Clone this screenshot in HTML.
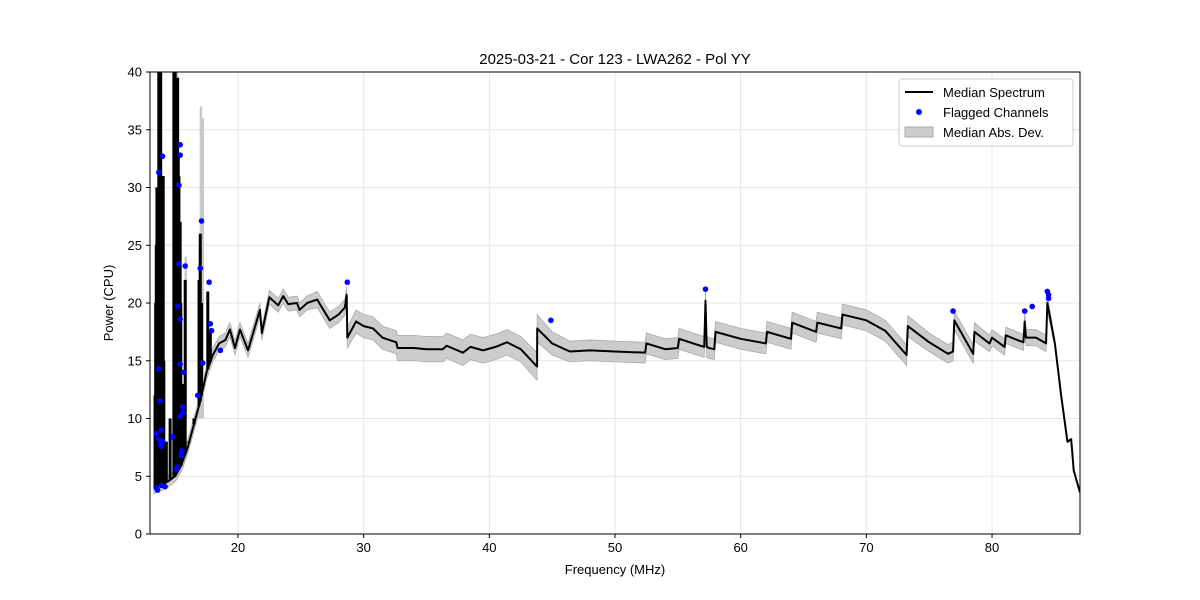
<!DOCTYPE html>
<html><head><meta charset="utf-8"><style>
body{margin:0;background:#fff;}
svg{display:block;font-family:"Liberation Sans","DejaVu Sans",sans-serif;}
</style></head><body>
<svg id="chart" width="1200" height="600" viewBox="0 0 1200 600">
<rect width="1200" height="600" fill="#fff"/>
<text x="615" y="64" text-anchor="middle" font-size="15">2025-03-21 - Cor 123 - LWA262 - Pol YY</text>
<g id="grid"></g>
<g id="plot"></g>
<rect x="150" y="72" width="930" height="462" fill="none" stroke="#000" stroke-width="1"/>
<g id="axes"></g>
<text x="615" y="574" text-anchor="middle" font-size="13">Frequency (MHz)</text>
<text transform="translate(113,303) rotate(-90)" text-anchor="middle" font-size="13">Power (CPU)</text>
<g>
<rect x="899" y="79" width="174" height="67" rx="3" fill="#fff" fill-opacity="0.85" stroke="#ccc"/>
<line x1="905" y1="92" x2="933" y2="92" stroke="#000" stroke-width="2"/>
<text x="943" y="97" font-size="13">Median Spectrum</text>
<circle cx="919" cy="112" r="3" fill="#00f"/>
<text x="943" y="117" font-size="13">Flagged Channels</text>
<rect x="905" y="127" width="28" height="10" fill="#ccc" stroke="#aaa"/>
<text x="943" y="137" font-size="13">Median Abs. Dev.</text>
</g>
</svg>
<script>
const xTicks=[20,30,40,50,60,70,80];
const yTicks=[0,5,10,15,20,25,30,35,40];
const freq=[13.3,13.6,14.0,14.5,15.0,15.5,16.0,16.5,17.0,17.5,18.0,18.5,19.0,19.36,19.76,20.16,20.8,21.75,21.9,22.5,23.2,23.6,24.0,24.7,24.9,25.5,26.3,27.3,28.0,28.5,28.65,28.7,29.4,30.0,30.75,31.5,32.6,32.7,34.0,35.0,36.3,36.6,37.9,38.5,39.5,40.5,41.4,42.5,43.8,43.81,45.0,46.4,48.0,50.0,52.4,52.5,54.0,55.0,55.1,56.5,57.1,57.2,57.3,57.5,57.9,58.0,60.0,62.0,62.1,64.0,64.1,66.0,66.1,68.0,68.1,70.0,71.5,73.2,73.3,75.0,76.5,76.9,77.0,78.5,78.6,79.8,80.0,81.0,81.1,82.0,82.5,82.6,82.7,83.5,84.3,84.4,85.0,85.5,86.0,86.3,86.5,87.0];
const power=[4.0,4.1,4.3,4.6,5.0,6.0,7.5,9.5,11.5,14.0,15.5,16.5,16.8,17.7,16.1,17.7,15.9,19.4,17.4,20.5,19.8,20.6,19.9,20.0,19.4,20.0,20.3,18.5,19.0,19.6,20.7,17.0,18.4,18.0,17.8,17.0,16.6,16.1,16.1,16.0,16.0,16.3,15.7,16.2,15.9,16.2,16.6,16.0,14.5,17.8,16.5,15.8,15.9,15.8,15.7,16.5,16.0,16.1,16.9,16.4,16.2,20.2,16.2,16.1,16.0,17.5,16.9,16.5,17.5,16.9,18.3,17.5,18.3,17.8,19.0,18.5,17.6,15.5,18.0,16.6,15.6,15.8,18.5,15.6,17.5,16.5,17.0,16.2,17.2,16.8,16.6,18.4,17.0,17.0,16.5,20.0,16.5,12.0,8.0,8.2,5.5,3.6];
const mad=[0.5,0.5,0.5,0.5,0.5,0.6,0.6,0.6,0.6,0.6,0.6,0.6,0.6,0.6,0.6,0.6,0.6,0.6,0.6,0.6,0.6,0.6,0.6,0.6,0.6,0.6,0.7,0.7,0.7,0.7,0.7,0.9,1.0,1.0,1.0,1.0,1.0,1.1,1.1,1.1,1.1,1.1,1.1,1.1,1.1,1.1,1.1,1.1,1.2,1.2,1.0,0.9,0.9,0.9,0.9,0.9,0.9,0.9,0.9,0.9,0.9,0.9,0.9,0.9,0.9,0.9,0.9,0.9,0.9,0.9,0.9,0.9,0.9,0.9,0.9,0.9,0.9,0.9,0.9,0.8,0.8,0.8,0.8,0.8,0.8,0.7,0.7,0.7,0.7,0.7,0.7,0.7,0.7,0.7,0.7,0.7,0.3,0.1,0.1,0.1,0.1,0.1];
const spikeFreq=[13.4,13.45,13.5,13.55,13.6,13.65,13.7,13.75,13.8,13.85,13.9,13.95,14.0,14.05,14.1,14.3,14.6,14.9,14.95,15.0,15.05,15.1,15.15,15.2,15.25,15.3,15.35,15.4,15.45,15.5,15.6,15.8,16.1,16.5,16.9,17.0,17.1,17.6,17.8];
const spikeTop=[12,20,25,30,22,29,40,40,35,40,28,20,24,31,15,8,10,40,36,40,38,38,30,39.5,33,31,24,27,20,12,13,22,8,10,22,26,20,21,17.7];
const madSpikeFreq=[17.05,17.2,16.95,15.85,15.15];
const madSpikeTop=[37,36,25,24,40];
const flagFreq=[57.2,44.9,28.7,76.9,82.6,83.2,84.4,84.5,84.5,18.6,17.7,17.8,17.9,17.1,17.0,16.8,17.2,15.8,15.7,15.4,15.4,15.3,15.3,15.2,15.4,15.4,15.6,15.6,15.4,15.5,15.2,15.1,13.7,14.0,13.7,13.8,13.5,13.7,13.9,14.0,13.9,13.8,13.5,13.6,13.9,14.2,14.8,15.55,15.5];
const flagPower=[21.2,18.5,21.8,19.3,19.3,19.7,21.0,20.7,20.4,15.9,21.8,18.2,17.6,27.1,23.0,12.0,14.8,23.2,14.0,33.7,32.8,30.2,23.4,19.7,18.6,14.7,11.0,10.5,10.2,7.0,5.8,5.6,31.3,32.7,14.3,11.5,8.7,8.2,9.0,8.0,7.6,7.8,4.0,3.8,4.2,4.1,8.4,7.2,6.8];

const X0=150,X1=1080,Y0=534,Y1=72,FMIN=13.0,FMAX=87.0,PMAX=40;
function xs(f){return X0+(f-FMIN)/(FMAX-FMIN)*(X1-X0);}
function ys(p){return Y0-Math.min(p,PMAX)/PMAX*(Y0-Y1);}
const NS='http://www.w3.org/2000/svg';
function mk(t,a,parent){const e=document.createElementNS(NS,t);for(const k in a)e.setAttribute(k,a[k]);parent.appendChild(e);return e;}
const grid=document.getElementById('grid'),plot=document.getElementById('plot'),axes=document.getElementById('axes');
xTicks.forEach(v=>{
 const gl=mk('line',{x1:xs(v),x2:xs(v),y1:Y1,y2:Y0,stroke:'#e5e5e5','stroke-width':1},grid);
 
 
 const tk=mk('line',{x1:xs(v),x2:xs(v),y1:Y0,y2:Y0+4,stroke:'#000'},axes);
 
 
 const tl=mk('text',{x:xs(v),y:Y0+18,'text-anchor':'middle','font-size':13},axes);
 tl.textContent=v;
 
 
});
yTicks.forEach(v=>{
 const gl=mk('line',{x1:X0,x2:X1,y1:ys(v),y2:ys(v),stroke:'#e5e5e5','stroke-width':1},grid);
 
 
 const tk=mk('line',{x1:X0-4,x2:X0,y1:ys(v),y2:ys(v),stroke:'#000'},axes);
 
 
 const tl=mk('text',{x:X0-8,y:ys(v)+4.5,'text-anchor':'end','font-size':13},axes);
 tl.textContent=v;
 
 
});
// clip
const cp=mk('clipPath',{id:'clip'},mk('defs',{},plot));
mk('rect',{x:X0,y:Y1,width:X1-X0,height:Y0-Y1},cp);
const g=mk('g',{'clip-path':'url(#clip)'},plot);
// MAD band
let up=freq.map((f,i)=>xs(f)+','+ys(power[i]+mad[i]));
let dn=freq.map((f,i)=>xs(f)+','+ys(power[i]-mad[i])).reverse();
const band=mk('polygon',{points:up.concat(dn).join(' '),fill:'#cccccc',stroke:'#aaa','stroke-width':0.8},g);


madSpikeFreq.forEach((f,i)=>{
 const s=mk('line',{x1:xs(f),x2:xs(f),y1:ys(madSpikeTop[i]),y2:ys(10),stroke:'#c8c8c8','stroke-width':2.5},g);
 
 
});
// spikes
function baseAt(f){for(let i=1;i<freq.length;i++){if(f<=freq[i]){const t=(f-freq[i-1])/(freq[i]-freq[i-1]);return power[i-1]+t*(power[i]-power[i-1]);}}return power[power.length-1];}
spikeFreq.forEach((f,i)=>{
 const s=mk('line',{x1:xs(f),x2:xs(f),y1:ys(spikeTop[i]),y2:ys(baseAt(f)),stroke:'#000','stroke-width':3},g);
 
 
});
const line=mk('polyline',{points:freq.map((f,i)=>xs(f)+','+ys(power[i])).join(' '),fill:'none',stroke:'#000','stroke-width':2,'stroke-linejoin':'round'},g);


flagFreq.forEach((f,i)=>{
 const c=mk('circle',{cx:xs(f),cy:ys(flagPower[i]),r:2.8,fill:'#0000ff'},plot);
 
 
});
</script>
</body></html>
